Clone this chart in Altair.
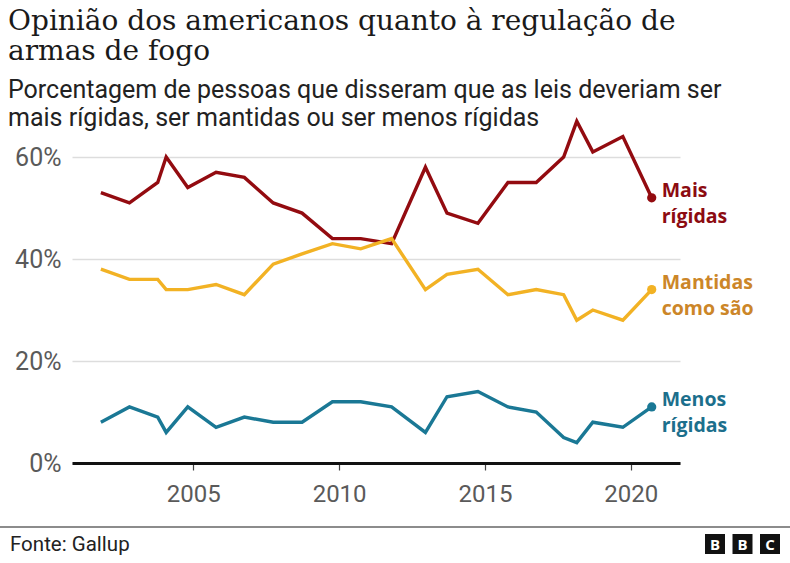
import altair as alt
import pandas as pd

# Survey dates (decimal years)
years = [2001.83, 2002.81, 2003.78, 2004.07, 2004.81, 2005.78, 2006.75, 2007.74,
         2008.73, 2009.77, 2010.74, 2011.80, 2012.96, 2013.70, 2014.76, 2015.79,
         2016.76, 2017.70, 2018.15, 2018.70, 2019.73, 2020.72]
mais = [53, 51, 55, 60, 54, 57, 56, 51, 49, 44, 44, 43, 58, 49, 47, 55, 55, 60, 67, 61, 64, 52]
mantidas = [38, 36, 36, 34, 34, 35, 33, 39, 41, 43, 42, 44, 34, 37, 38, 33, 34, 33, 28, 30, 28, 34]
menos = [8, 11, 9, 6, 11, 7, 9, 8, 8, 12, 12, 11, 6, 13, 14, 11, 10, 5, 4, 8, 7, 11]

series_names = ["Mais rígidas", "Mantidas como são", "Menos rígidas"]
series_labels = ["Mais\nrígidas", "Mantidas\ncomo são", "Menos\nrígidas"]
line_colors = ["#930b10", "#f2b224", "#1a7895"]
label_colors = ["#8c0b11", "#cc8628", "#1c6f8c"]

x_ticks = [2005, 2010, 2015, 2020]
y_ticks = [0, 20, 40, 60]

title_lines = ["Opinião dos americanos quanto à regulação de", "armas de fogo"]
subtitle_lines = ["Porcentagem de pessoas que disseram que as leis deveriam ser",
                  "mais rígidas, ser mantidas ou ser menos rígidas"]
source_text = "Fonte: Gallup"
logo_letters = ["B", "B", "C"]

rows = []
for name, vals in zip(series_names, [mais, mantidas, menos]):
    for yr, v in zip(years, vals):
        rows.append({"ano": yr, "valor": v, "serie": name})
df = pd.DataFrame(rows)

last = pd.DataFrame({
    "ano": [years[-1]] * 3,
    "valor": [mais[-1], mantidas[-1], menos[-1]],
    "serie": series_names,
    "rotulo": series_labels,
})

W, H = 608, 306
LEFT, TOP = 72, 157

xscale = alt.Scale(domain=[2000.84, 2021.69], nice=False, zero=False)
yscale = alt.Scale(domain=[0, 60], nice=False)

x_enc = alt.X("ano:Q", scale=xscale,
              axis=alt.Axis(values=x_ticks, format="d", grid=False, title=None,
                            domainColor="#111111", domainWidth=3, tickColor="#444444",
                            tickSize=7, tickWidth=1.2, labelFont="Roboto", labelFontSize=24,
                            labelColor="#5a5a5a", labelPadding=12, zindex=1))
y_enc = alt.Y("valor:Q", scale=yscale,
              axis=alt.Axis(values=y_ticks, labelExpr="datum.value + '%'", grid=True,
                            gridColor="#dddddd", gridWidth=1.5, domain=False, ticks=False,
                            title=None, labelFont="Roboto", labelFontSize=25,
                            labelColor="#5a5a5a", labelPadding=11))

color_line = alt.Color("serie:N", legend=None,
                       scale=alt.Scale(domain=series_names, range=line_colors))

lines = alt.Chart(df).mark_line(strokeWidth=3.4, clip=False).encode(
    x=x_enc, y=y_enc, color=color_line, detail="serie:N")

points = alt.Chart(last).mark_circle(size=85, opacity=1).encode(
    x=alt.X("ano:Q", scale=xscale), y=alt.Y("valor:Q", scale=yscale), color=color_line)

labels = alt.Chart(last).mark_text(
    align="left", baseline="top", dx=10, dy=-16, font="Open Sans", fontSize=19.5,
    fontWeight="bold", lineBreak="\n", lineHeight=26).encode(
    x=alt.X("ano:Q", scale=xscale), y=alt.Y("valor:Q", scale=yscale),
    text="rotulo:N",
    color=alt.Color("serie:N", legend=None,
                    scale=alt.Scale(domain=series_names, range=label_colors)))

footer_rule = alt.Chart(pd.DataFrame({"a": [0]})).mark_rule(color="#666666", strokeWidth=1.5).encode(
    x=alt.value(-LEFT), x2=alt.value(790 - LEFT), y=alt.value(527 - TOP))

source = alt.Chart(pd.DataFrame({"t": [source_text]})).mark_text(
    align="left", baseline="middle", font="Roboto", fontSize=20.5, color="#222222").encode(
    x=alt.value(10 - LEFT), y=alt.value(545 - TOP), text="t:N")

logo_df = pd.DataFrame({"letra": logo_letters, "i": [0, 1, 2]})
logo_boxes = alt.Chart(logo_df).mark_rect(color="#111111").transform_calculate(
    x0=f"{705 - LEFT} + datum.i * 27.5", x1=f"{725 - LEFT} + datum.i * 27.5").encode(
    x=alt.X("x0:Q", scale=None), x2="x1:Q",
    y=alt.value(534 - TOP), y2=alt.value(554 - TOP))
logo_text = alt.Chart(logo_df).mark_text(
    color="white", font="Open Sans", fontWeight="bold", fontSize=15,
    baseline="middle", align="center").transform_calculate(
    xc=f"{715 - LEFT} + datum.i * 27.5").encode(
    x=alt.X("xc:Q", scale=None), y=alt.value(544.5 - TOP), text="letra:N")

chart = alt.layer(lines, points, labels, footer_rule, source, logo_boxes, logo_text).resolve_scale(
    color="independent", x="shared"
).properties(
    width=W, height=H,
    autosize=alt.AutoSizeParams(type="none"),
    padding={"left": LEFT, "top": TOP, "right": 790 - LEFT - W, "bottom": 563 - TOP - H},
    title=alt.TitleParams(
        text=title_lines, subtitle=subtitle_lines, anchor="start", frame="group",
        font="DejaVu Serif", fontSize=28, fontWeight="normal", color="#1a1a1a",
        lineHeight=30, subtitleFont="Roboto", subtitleFontSize=25,
        subtitleColor="#222222", subtitleLineHeight=28, subtitlePadding=12,
        dx=8 - LEFT, dy=28, offset=12),
).configure_view(stroke=None)

chart.save("out.html", embed_options={"renderer": "svg", "actions": False})
